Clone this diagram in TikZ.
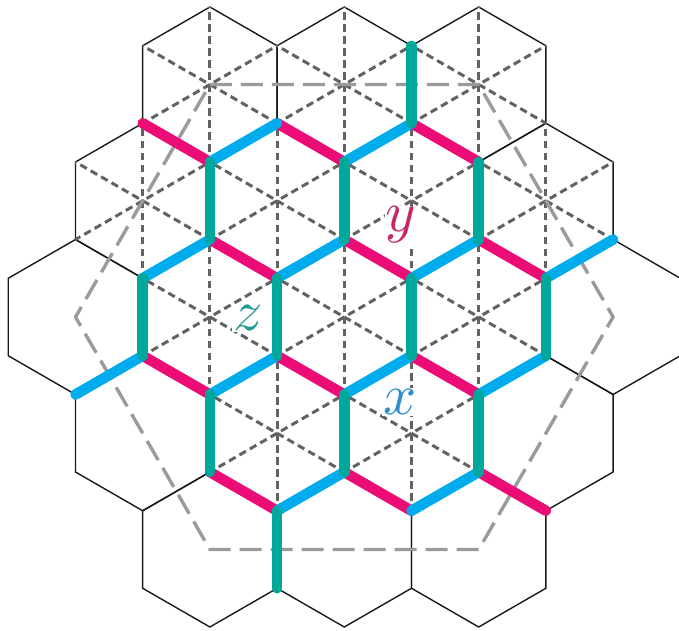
\documentclass[tikz,border=0pt]{standalone}
\definecolor{cpink}{RGB}{236,12,118}
\definecolor{cblue}{RGB}{0,172,236}
\definecolor{cteal}{RGB}{0,168,155}
\definecolor{lz}{RGB}{35,155,148}
\definecolor{ly}{RGB}{200,38,100}
\definecolor{lx}{RGB}{45,143,205}
\definecolor{dgray}{RGB}{98,98,98}
\definecolor{lgray}{RGB}{155,155,158}
\begin{document}
\begin{tikzpicture}[x=67.2pt,y=38.75pt,
  hexline/.style={black!90,line width=1.4pt,line join=miter},
  spoke/.style={dgray,line width=3pt,dash pattern=on 7.5pt off 4.5pt,dash phase=1.9pt},
  bighex/.style={lgray,line width=3.4pt,dash pattern=on 22pt off 9pt,line join=round},
  bond/.style={line width=10.5pt,line cap=round},
  lab/.style={fill=white,inner sep=0.2pt,scale=5.8,transform shape}]
\useasboundingbox (-344.3pt,-313pt) rectangle (334.7pt,317pt);
% hexagon outlines
\foreach \cx/\cy in {-2/6,0/6,2/6,-3/3,-1/3,1/3,3/3,-4/0,-2/0,0/0,2/0,4/0,-3/-3,-1/-3,1/-3,3/-3,-2/-6,0/-6,2/-6}
  \draw[hexline] (\cx,\cy+2) -- (\cx+1,\cy+1) -- (\cx+1,\cy-1) -- (\cx,\cy-2) -- (\cx-1,\cy-1) -- (\cx-1,\cy+1) -- cycle;
% dashed diagonals
\foreach \cx/\cy in {-2/6,0/6,2/6,-3/3,-1/3,1/3,3/3,-2/0,0/0,2/0,-1/-3,1/-3}{
  \draw[spoke] (\cx,\cy-2) -- (\cx,\cy+2);
  \draw[spoke] (\cx-1,\cy-1) -- (\cx+1,\cy+1);
  \draw[spoke] (\cx+1,\cy-1) -- (\cx-1,\cy+1);
}
% big dashed hexagon
\draw[bighex] (-2,6) -- (2,6) -- (4,0) -- (2,-6) -- (-2,-6) -- (-4,0) -- cycle;
% pink bonds
\foreach \a/\b/\c/\d in {-3/5/-2/4,-1/5/0/4,1/5/2/4,-2/2/-1/1,0/2/1/1,2/2/3/1,-3/-1/-2/-2,-1/-1/0/-2,1/-1/2/-2,-2/-4/-1/-5,0/-4/1/-5,2/-4/3/-5}
  \draw[bond,cpink] (\a,\b) -- (\c,\d);
% blue bonds
\foreach \a/\b/\c/\d in {-2/4/-1/5,0/4/1/5,-3/1/-2/2,-1/1/0/2,1/1/2/2,3/1/4/2,-4/-2/-3/-1,-2/-2/-1/-1,0/-2/1/-1,-1/-5/0/-4,1/-5/2/-4,2/-2/3/-1}
  \draw[bond,cblue] (\a,\b) -- (\c,\d);
% teal bonds
\foreach \a/\b/\c/\d in {1/7/1/5,-2/4/-2/2,0/4/0/2,2/4/2/2,-3/1/-3/-1,-1/1/-1/-1,1/1/1/-1,3/1/3/-1,-2/-2/-2/-4,0/-2/0/-4,2/-2/2/-4,-1/-5/-1/-7}
  \draw[bond,cteal] (\a,\b) -- (\c,\d);
% labels
\node[lab,text=lz] (lblz) at (-96pt,-1pt) {$z$};
\node[lab,text=ly] (lbly) at (56.7pt,92pt) {$y$};
\node[lab,text=lx] (lblx) at (55.7pt,-85pt) {$x$};
\end{tikzpicture}
\end{document}
